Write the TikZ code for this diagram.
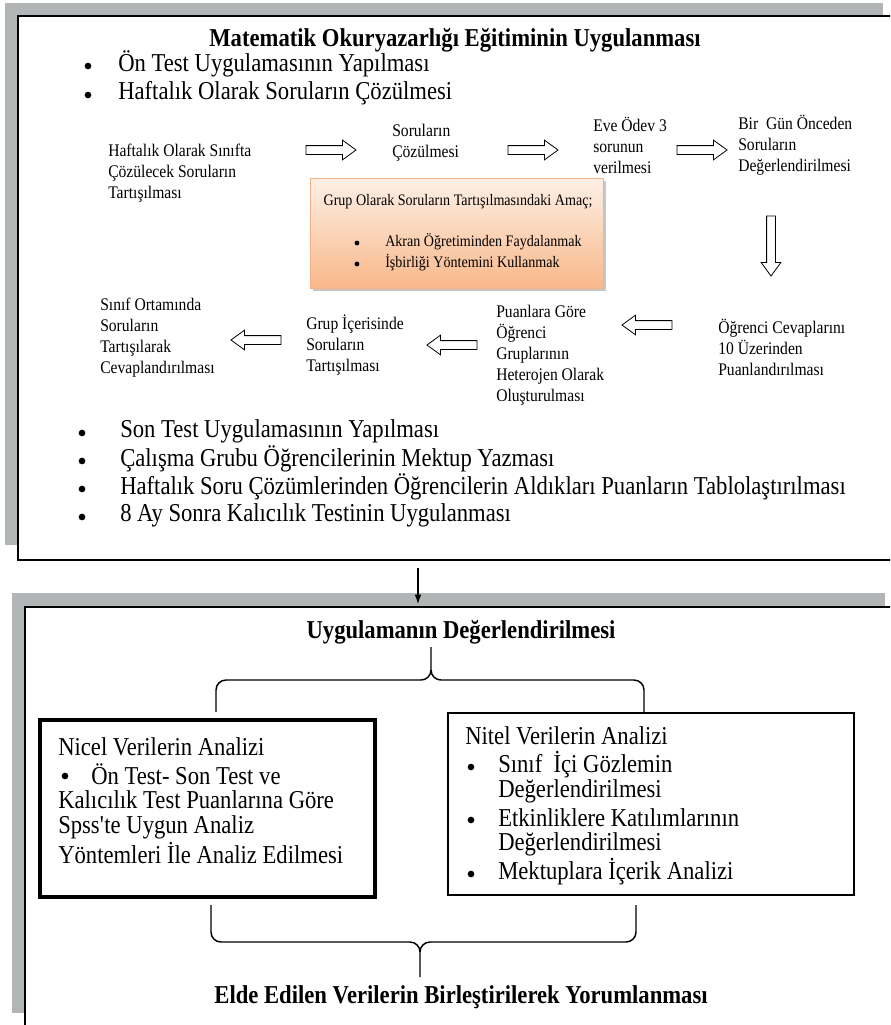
\documentclass[tikz,border=0pt]{standalone}
\usepackage{fontspec}
\setmainfont{Liberation Serif}[FakeStretch=0.88]
\usetikzlibrary{shapes.arrows, arrows.meta}

\definecolor{shadowgray}{RGB}{178,181,181}
\definecolor{peachtop}{RGB}{253,240,230}
\definecolor{peachbot}{RGB}{249,184,138}
\definecolor{peachline}{RGB}{244,177,131}

\newcommand{\shaftbox}{\rule{0pt}{6pt}\rule{6pt}{0pt}}

\tikzset{
  bigtext/.style={anchor=west, inner sep=0pt, font=\fontsize{19.3}{22}\selectfont},
  headtext/.style={inner sep=0pt, font=\bfseries\fontsize{19.3}{22}\selectfont},
  flowtext/.style={anchor=west, inner sep=0pt, align=left, font=\fontsize{13.3}{15.75}\selectfont},
  goaltext/.style={inner sep=0pt, font=\fontsize{12}{14}\selectfont},
  dot/.style={circle, fill, inner sep=0pt, minimum size=5pt},
  smalldot/.style={circle, fill, inner sep=0pt, minimum size=3.6pt},
  hollow/.style={single arrow, draw, line width=0.6pt, minimum height=37.5pt,
    single arrow head extend=4.1pt, single arrow tip angle=72, inner sep=0pt},
  bracket/.style={line width=1.1pt}
}

\begin{document}
\begin{tikzpicture}[x=0.75pt, y=-0.75pt, >=Latex]
    \useasboundingbox (0,0) rectangle (890,1025);
    \clip (0,0) rectangle (890,1025);

    % Upper panel
    \fill[shadowgray] (5,3) rectangle (883,545);
    \draw[fill=white, line width=1.1pt] (18,16) rectangle (900,560);
    \node[headtext] (title) at (455,40) {Matematik Okuryazarlığı Eğitiminin Uygulanması};
    \node[dot] (d1) at (88,66) {};
    \node[bigtext] (pre) at (118,64) {Ön Test Uygulamasının Yapılması};
    \node[dot] (d2) at (88,95) {};
    \node[bigtext] (weekly) at (118,93) {Haftalık Olarak Soruların Çözülmesi};

    % Weekly cycle, first row
    \node[flowtext] (discuss) at (108,173.5) {Haftalık Olarak Sınıfta\\Çözülecek Soruların\\Tartışılması};
    \node[hollow] (a1) at (328,150) {\shaftbox};
    \node[flowtext] (solve) at (392,143) {Soruların\\Çözülmesi};
    \node[hollow] (a2) at (530,150) {\shaftbox};
    \node[flowtext] (homework) at (593,145) {Eve Ödev 3\\sorunun\\verilmesi};
    \node[hollow] (a3) at (699,150) {\shaftbox};
    \node[flowtext] (review) at (738,145) {Bir\ \ Gün Önceden\\Soruların\\Değerlendirilmesi};
    \node[hollow, shape border rotate=270, minimum height=45pt] (a4) at (771,243) {\shaftbox};

    % Goal box
    \fill[black!22] (313,181) rectangle (606,291);
    \shade[top color=peachtop, bottom color=peachbot, draw=peachline, line width=0.75pt] (310,178) rectangle (603,288);
    \node[goaltext] (goal) at (458,202) {Grup Olarak Soruların Tartışılmasındaki Amaç;};
    \node[smalldot] (g1) at (357,243) {};
    \node[goaltext, anchor=west] (peer) at (385,242) {Akran Öğretiminden Faydalanmak};
    \node[smalldot] (g2) at (357,264) {};
    \node[goaltext, anchor=west] (coop) at (385,263) {İşbirliği Yöntemini Kullanmak};

    % Weekly cycle, second row
    \node[flowtext] (score) at (718,347.5) {Öğrenci Cevaplarını\\10 Üzerinden\\Puanlandırılması};
    \node[hollow, shape border rotate=180] (a5) at (650,325) {\shaftbox};
    \node[flowtext] (groups) at (496,355) {Puanlara Göre\\Öğrenci\\Gruplarının\\Heterojen Olarak\\Oluşturulması};
    \node[hollow, shape border rotate=180] (a6) at (455,345) {\shaftbox};
    \node[flowtext] (ingroup) at (306,345) {Grup İçerisinde\\Soruların\\Tartışılması};
    \node[hollow, shape border rotate=180] (a7) at (259,340) {\shaftbox};
    \node[flowtext] (inclass) at (100,337.5) {Sınıf Ortamında\\Soruların\\Tartışılarak\\Cevaplandırılması};

    % Remaining steps
    \node[dot] (d3) at (82,433) {};
    \node[bigtext] (post) at (120,431) {Son Test Uygulamasının Yapılması};
    \node[dot] (d4) at (82,461) {};
    \node[bigtext] (letter) at (120,459) {Çalışma Grubu Öğrencilerinin Mektup Yazması};
    \node[dot] (d5) at (82,489) {};
    \node[bigtext] (table) at (120,487) {Haftalık Soru Çözümlerinden Öğrencilerin Aldıkları Puanların Tablolaştırılması};
    \node[dot] (d6) at (82,517) {};
    \node[bigtext] (retention) at (120,515) {8 Ay Sonra Kalıcılık Testinin Uygulanması};

    % Lower panel
    \fill[shadowgray] (12,593) rectangle (885,1013);
    \draw[fill=white, line width=1.1pt] (25,607) rectangle (900,1040);
    \node[headtext] (evaluation) at (461,632) {Uygulamanın Değerlendirilmesi};

    % Link between panels
    \coordinate (upper) at (418,568);
    \coordinate (lower) at (418,604);
    \draw[-{Latex[length=7pt,width=5pt]}, line width=0.8pt] (upper) -- (lower);

    % Upper brace
    \draw[bracket] (216,712) -- (216,690) to[out=90,in=180] (226,680) -- (421,680) to[out=0,in=-90] (431,670) -- (431,647);
    \draw[bracket] (431,670) to[out=-90,in=180] (441,680) -- (634,680) to[out=0,in=90] (644,690) -- (644,712);

    % Quantitative analysis
    \draw[line width=3pt] (40,720) rectangle (375,897);
    \node[bigtext] (quant) at (58,747) {Nicel Verilerin Analizi};
    \node[dot] (q1) at (65,776) {};
    \node[bigtext] (qa) at (91,774) {Ön Test- Son Test ve};
    \node[bigtext] (qb) at (58,800) {Kalıcılık Test Puanlarına Göre};
    \node[bigtext] (qc) at (58,827) {Spss\textquotesingle te Uygun Analiz};
    \node[bigtext] (qd) at (58,853) {Yöntemleri İle Analiz Edilmesi};

    % Qualitative analysis
    \draw[line width=1.1pt] (448,713) rectangle (854,895);
    \node[bigtext] (qual) at (465,736) {Nitel Verilerin Analizi};
    \node[dot] (n1) at (471,767) {};
    \node[bigtext] (na) at (498,765) {Sınıf\ \ İçi Gözlemin};
    \node[bigtext] (nb) at (498,791) {Değerlendirilmesi};
    \node[dot] (n2) at (471,820) {};
    \node[bigtext] (nc) at (498,818) {Etkinliklere Katılımlarının};
    \node[bigtext] (nd) at (498,844) {Değerlendirilmesi};
    \node[dot] (n3) at (471,874) {};
    \node[bigtext] (ne) at (498,872) {Mektuplara İçerik Analizi};

    % Lower brace
    \draw[bracket] (211,905) -- (211,932) to[out=-90,in=180] (221,942) -- (410,942) to[out=0,in=90] (420,952) -- (420,977);
    \draw[bracket] (420,952) to[out=90,in=180] (430,942) -- (626,942) to[out=0,in=-90] (636,932) -- (636,905);
    \node[headtext] (combine) at (461,997) {Elde Edilen Verilerin Birleştirilerek Yorumlanması};
\end{tikzpicture}
\end{document}
